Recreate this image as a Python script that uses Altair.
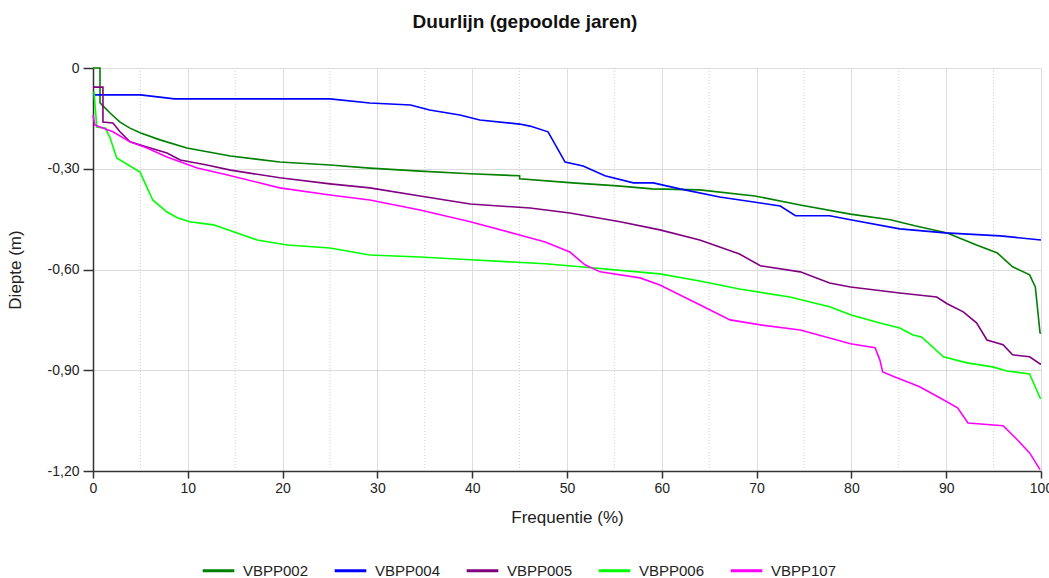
import altair as alt
import pandas as pd

# ---- data (x = frequentie %, y = diepte m) ----
series_names = ["VBPP002", "VBPP004", "VBPP005", "VBPP006", "VBPP107"]
series_colors = ["#008000", "#0000ff", "#800080", "#00ff00", "#ff00ff"]

vbpp002_x = [0, 0.74, 0.74, 1.8, 2.85, 3.9, 4.96, 7.07, 9.9, 14.5, 19.7, 25.0, 29.2, 34.5, 39.8, 45.0, 45.0,
             50.6, 55.3, 59.0, 64.0, 69.8, 74.6, 79.9, 84.1, 86.7, 90.1, 93.2, 95.4, 97.0, 98.8, 99.4, 99.9, 100]
vbpp002_y = [0, 0, -0.104, -0.134, -0.161, -0.179, -0.193, -0.214, -0.238, -0.262, -0.280, -0.289, -0.298,
             -0.307, -0.315, -0.321, -0.330, -0.342, -0.351, -0.360, -0.363, -0.381, -0.408, -0.435, -0.452,
             -0.470, -0.491, -0.527, -0.551, -0.592, -0.616, -0.652, -0.789, -0.790]

vbpp004_x = [0, 5.0, 8.6, 25.0, 29.2, 33.5, 35.5, 38.7, 40.8, 45.0, 46.1, 48.0, 49.8, 51.7, 54.0, 57.0, 59.1,
             61.9, 66.1, 70.4, 72.5, 74.1, 77.7, 79.9, 85.1, 89.9, 95.7, 100]
vbpp004_y = [-0.080, -0.080, -0.092, -0.092, -0.104, -0.110, -0.125, -0.140, -0.155, -0.167, -0.173, -0.190,
             -0.280, -0.292, -0.321, -0.342, -0.342, -0.360, -0.384, -0.402, -0.411, -0.440, -0.440, -0.452,
             -0.479, -0.491, -0.500, -0.512]

vbpp005_x = [0, 1.05, 1.05, 2.1, 2.85, 3.9, 5.7, 7.8, 9.2, 12.0, 14.5, 19.7, 25.0, 29.2, 34.5, 39.8, 46.1,
             50.3, 55.6, 59.8, 64.0, 68.2, 70.4, 74.6, 77.7, 79.9, 85.1, 89.0, 90.1, 91.8, 93.2, 94.3, 96.0,
             97.0, 98.8, 99.9, 100]
vbpp005_y = [-0.057, -0.057, -0.161, -0.164, -0.190, -0.220, -0.235, -0.253, -0.274, -0.289, -0.304, -0.327,
             -0.345, -0.357, -0.381, -0.405, -0.417, -0.432, -0.458, -0.482, -0.512, -0.554, -0.589, -0.607,
             -0.640, -0.652, -0.670, -0.682, -0.702, -0.726, -0.759, -0.810, -0.824, -0.854, -0.860, -0.881,
             -0.881]

vbpp006_x = [0.1, 0.4, 1.3, 1.8, 2.5, 4.96, 6.3, 7.8, 8.9, 10.2, 12.7, 15.2, 17.3, 20.5, 25.0, 29.2, 34.5,
             39.8, 47.7, 51.4, 59.8, 64.0, 68.2, 73.5, 77.7, 79.9, 83.0, 85.1, 86.5, 87.4, 89.7, 92.2, 94.9,
             96.4, 98.8, 99.9, 100]
vbpp006_y = [-0.070, -0.176, -0.179, -0.208, -0.268, -0.310, -0.393, -0.429, -0.446, -0.458, -0.467, -0.491,
             -0.512, -0.527, -0.536, -0.557, -0.563, -0.571, -0.583, -0.592, -0.613, -0.634, -0.658, -0.682,
             -0.711, -0.735, -0.759, -0.774, -0.795, -0.801, -0.860, -0.878, -0.890, -0.902, -0.911, -0.982,
             -0.985]

vbpp107_x = [0, 0.2, 0.74, 2.1, 3.9, 5.7, 7.8, 11.0, 14.1, 19.7, 25.0, 29.2, 34.5, 39.8, 45.0, 47.7, 50.3,
             51.9, 53.5, 57.7, 59.8, 64.0, 67.2, 70.4, 74.6, 77.7, 79.9, 82.5, 83.0, 83.3, 84.6, 87.2, 89.7,
             91.2, 92.3, 96.0, 97.5, 98.8, 99.9]
vbpp107_y = [-0.140, -0.170, -0.176, -0.190, -0.220, -0.238, -0.265, -0.298, -0.318, -0.357, -0.378, -0.393,
             -0.423, -0.458, -0.497, -0.518, -0.548, -0.586, -0.607, -0.625, -0.646, -0.705, -0.750, -0.765,
             -0.780, -0.804, -0.821, -0.833, -0.869, -0.905, -0.920, -0.949, -0.988, -1.012, -1.057, -1.065,
             -1.107, -1.146, -1.196]

x_ticks = [0, 10, 20, 30, 40, 50, 60, 70, 80, 90, 100]
x_minor = [5, 15, 25, 35, 45, 55, 65, 75, 85, 95]
y_ticks = [0, -0.3, -0.6, -0.9, -1.2]

all_x = [vbpp002_x, vbpp004_x, vbpp005_x, vbpp006_x, vbpp107_x]
all_y = [vbpp002_y, vbpp004_y, vbpp005_y, vbpp006_y, vbpp107_y]

rows = []
for name, xs, ys in zip(series_names, all_x, all_y):
    for i, (xv, yv) in enumerate(zip(xs, ys)):
        rows.append({"reeks": name, "freq": xv, "diepte": yv, "order": i})
df = pd.DataFrame(rows)
minor_df = pd.DataFrame({"freq": x_minor})

FONT = "Liberation Sans"

x_scale = alt.Scale(domain=[0, 100], nice=False, zero=False)
y_scale = alt.Scale(domain=[-1.2, 0], nice=False)

minor = alt.Chart(minor_df).mark_rule(color="#cfcfcf", strokeDash=[1, 2], strokeWidth=1).encode(
    x=alt.X("freq:Q", scale=x_scale)
)

lines = alt.Chart(df).mark_line(strokeWidth=1.6).encode(
    x=alt.X("freq:Q", scale=x_scale,
            axis=alt.Axis(values=x_ticks, title="Frequentie (%)", tickSize=7, labelPadding=3,
                          titlePadding=14, format="d", labelFlush=False)),
    y=alt.Y("diepte:Q", scale=y_scale,
            axis=alt.Axis(values=y_ticks, title="Diepte (m)", tickSize=10, labelPadding=4, titlePadding=23,
                          labelFlush=False,
                          labelExpr="datum.value == 0 ? '0' : (datum.value < 0 ? '-' : '') + "
                                    "replace(format(abs(datum.value), '.2f'), '.', ',')")),
    color=alt.Color("reeks:N", scale=alt.Scale(domain=series_names, range=series_colors),
                    legend=alt.Legend(title=None, orient="none", legendX=108, legendY=485,
                                      direction="horizontal", columns=5, symbolType="stroke",
                                      symbolSize=1000, symbolStrokeWidth=3, labelFontSize=15,
                                      labelFont=FONT, labelColor="#222", columnPadding=19,
                                      labelOffset=7, padding=0)),
    order="order:Q",
)

chart = alt.layer(minor, lines).properties(
    width=948,
    height=403,
    title=alt.TitleParams("Duurlijn (gepoolde jaren)", font=FONT, fontSize=19, fontWeight="bold",
                          color="#111", anchor="middle", offset=29, dx=-42),
    autosize=alt.AutoSizeParams(type="none"),
    padding={"left": 93, "top": 68, "right": 8, "bottom": 107},
).configure_view(stroke=None).configure_axis(
    labelFont=FONT, labelFontSize=14, labelColor="#222",
    titleFont=FONT, titleFontSize=17, titleFontWeight="normal", titleColor="#222",
    domainColor="#333", domainWidth=1.5, tickColor="#333", tickWidth=1.5,
    gridColor="#dcdcdc", gridWidth=1,
)

chart.save("out.html", embed_options={"renderer": "svg", "actions": False})
